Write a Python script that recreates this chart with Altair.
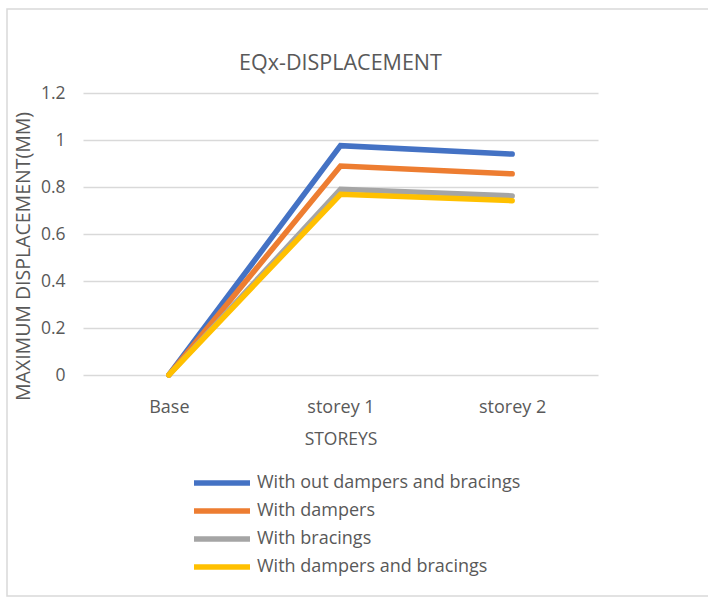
import altair as alt
import pandas as pd

# Storey levels and peak displacement (mm) for each structural configuration
storeys = ["Base", "storey 1", "storey 2"]
series_names = [
    "\u00a0With out dampers and bracings",
    "With dampers",
    "With bracings",
    "With dampers and bracings",
]
no_dampers_no_bracings = [0, 0.976, 0.940]
with_dampers = [0, 0.889, 0.856]
with_bracings = [0, 0.790, 0.762]
with_dampers_and_bracings = [0, 0.769, 0.742]
colors = ["#4472C4", "#ED7D31", "#A5A5A5", "#FFC000"]

values = [no_dampers_no_bracings, with_dampers, with_bracings, with_dampers_and_bracings]
rows = []
for k, (name, vals) in enumerate(zip(series_names, values)):
    for s, v in zip(storeys, vals):
        rows.append({"storey": s, "series": name, "disp": v, "order": k})
df = pd.DataFrame(rows)

FONT = "Open Sans"
TEXT = "#595959"

lines = (
    alt.Chart(df)
    .mark_line(strokeWidth=5.5, strokeCap="round", strokeJoin="miter")
    .encode(
        x=alt.X(
            "storey:N",
            sort=storeys,
            scale=alt.Scale(type="point", padding=0.5),
            axis=alt.Axis(
                title="STOREYS",
                labelAngle=0,
                labelPadding=23,
                labelFontSize=18,
                titleFontSize=17.5,
                titlePadding=14,
                titleFontWeight="normal",
                ticks=False,
                domain=False,
                grid=False,
            ),
        ),
        y=alt.Y(
            "disp:Q",
            scale=alt.Scale(domain=[0, 1.2]),
            axis=alt.Axis(
                title="MAXIMUM DISPLACEMENT(MM)",
                values=[0, 0.2, 0.4, 0.6, 0.8, 1, 1.2],
                format="~g",
                labelPadding=18,
                labelFontSize=17.5,
                titleFontSize=19.5,
                titleFontWeight="normal",
                titleAngle=-90,
                titleAlign="center",
                titleBaseline="middle",
                titleX=-60,
                titleY=163,
                ticks=False,
                domain=False,
                gridColor="#D9D9D9",
                gridWidth=1.5,
            ),
        ),
        color=alt.Color(
            "series:N",
            sort=series_names,
            scale=alt.Scale(domain=series_names, range=colors),
            legend=alt.Legend(
                title=None,
                orient="none",
                legendX=126,
                legendY=377,
                direction="vertical",
                padding=0,
                symbolType="M-2.8,0H2.8",
                symbolSize=400,
                symbolStrokeWidth=5.5,
                labelFontSize=18,
                labelColor=TEXT,
                labelLimit=0,
                rowPadding=4,
                labelOffset=22,
            ),
        ),
        order=alt.Order("order:Q"),
    )
)

# Light outer frame around the whole figure
frame = alt.Chart(pd.DataFrame({"f": [0]})).mark_rect(
    fill=None, stroke="#D9D9D9", strokeWidth=1.5
).encode(
    x=alt.value(-76), x2=alt.value(640), y=alt.value(-84), y2=alt.value(503)
)

chart = (
    alt.layer(frame, lines)
    .properties(
        width=515,
        height=282,
        autosize=alt.AutoSizeParams(type="none"),
        padding={"left": 83, "top": 93, "right": 110, "bottom": 222},
        title=alt.Title(
            "EQx-DISPLACEMENT",
            fontSize=21.5,
            fontWeight="normal",
            color=TEXT,
            font=FONT,
            anchor="middle",
            offset=14,
            dy=80,
        ),
    )
    .configure(font=FONT)
    .configure_axis(labelColor=TEXT, titleColor=TEXT, labelFont=FONT, titleFont=FONT)
    .configure_legend(labelFont=FONT)
    .configure_view(stroke=None)
)

chart.save("out.html", embed_options={"renderer": "svg", "actions": False})
